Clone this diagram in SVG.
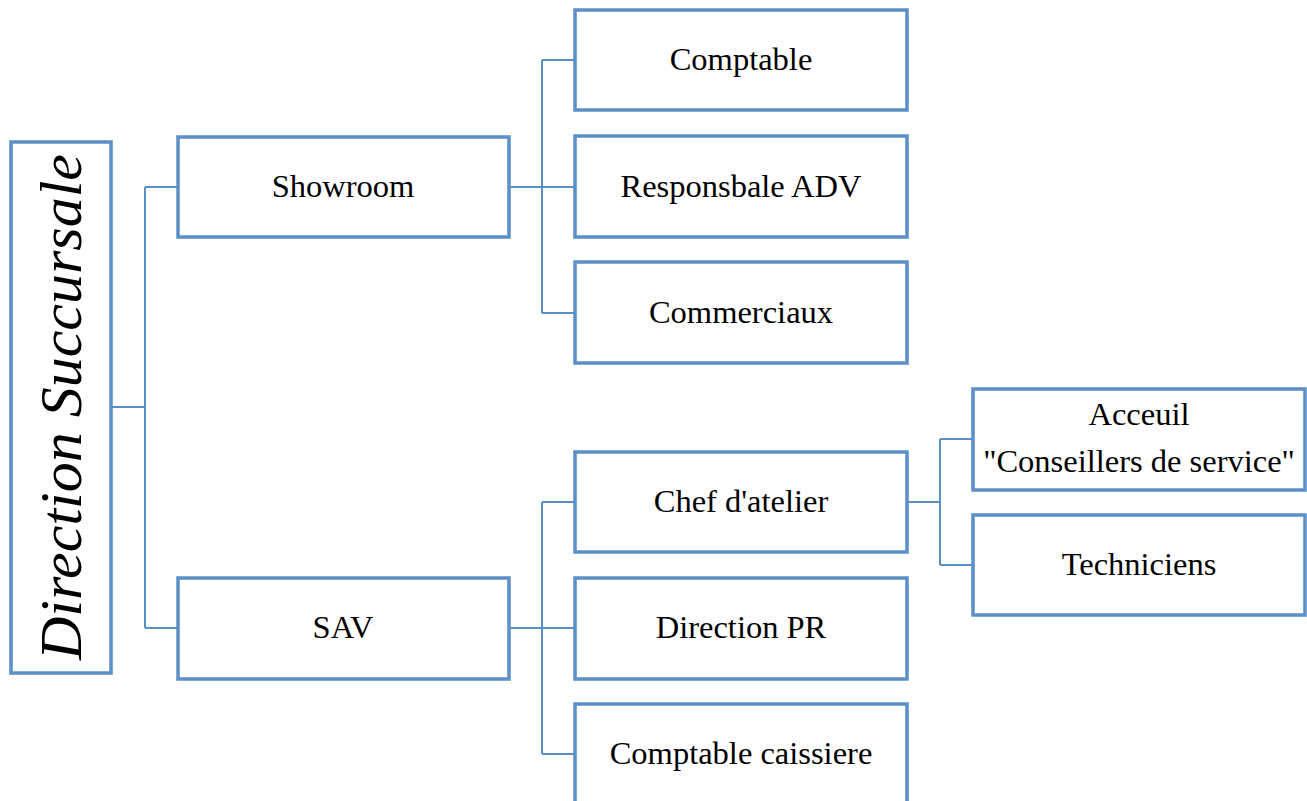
<svg xmlns="http://www.w3.org/2000/svg" width="1307" height="801" viewBox="0 0 1307 801">
<style>
.box{fill:#fff;stroke:#5b8fc7;stroke-width:3.5}
.lbl{font-family:"Liberation Serif","Times New Roman",serif;font-size:32.5px;fill:#000;text-anchor:middle}
.con{fill:none;stroke:#5b8fc7;stroke-width:2}
</style>
<rect width="1307" height="801" fill="#fff"/>
<g id="connectors">
<path class="con" d="M111 407H145M145 187V628M145 187H178M145 628H178"/>
<path class="con" d="M509 187H542M542 60V313M542 60H575M542 187H575M542 313H575"/>
<path class="con" d="M509 628H542M542 502V754M542 502H575M542 628H575M542 754H575"/>
<path class="con" d="M907 502H940M940 439V565M940 439H973M940 565H973"/>
</g>
<g id="root"><rect class="box" x="11" y="142" width="100" height="531"/><text class="lbl" transform="translate(81,407) rotate(-90)" style="font-size:60px;font-style:italic">Direction Succursale</text></g>
<g id="showroom"><rect class="box" x="178" y="137" width="331" height="100"/><text class="lbl" x="343" y="197">Showroom</text></g>
<g id="sav"><rect class="box" x="178" y="578" width="331" height="101"/><text class="lbl" x="343" y="638">SAV</text></g>
<g id="comptable"><rect class="box" x="575" y="10" width="332" height="100"/><text class="lbl" x="741" y="70">Comptable</text></g>
<g id="adv"><rect class="box" x="575" y="136" width="332" height="101"/><text class="lbl" x="741" y="197">Responsbale ADV</text></g>
<g id="commerciaux"><rect class="box" x="575" y="262" width="332" height="101"/><text class="lbl" x="741" y="323">Commerciaux</text></g>
<g id="chef"><rect class="box" x="575" y="452" width="332" height="100"/><text class="lbl" x="741" y="512">Chef d'atelier</text></g>
<g id="directionpr"><rect class="box" x="575" y="578" width="332" height="101"/><text class="lbl" x="741" y="638">Direction PR</text></g>
<g id="caissiere"><rect class="box" x="575" y="704" width="332" height="110"/><text class="lbl" x="741" y="764">Comptable caissiere</text></g>
<g id="acceuil"><rect class="box" x="973" y="389" width="332" height="101"/><text class="lbl" x="1139" y="425">Acceuil</text><text class="lbl" x="1139" y="472">"Conseillers de service"</text></g>
<g id="techniciens"><rect class="box" x="973" y="515" width="332" height="100"/><text class="lbl" x="1139" y="575">Techniciens</text></g>
</svg>
